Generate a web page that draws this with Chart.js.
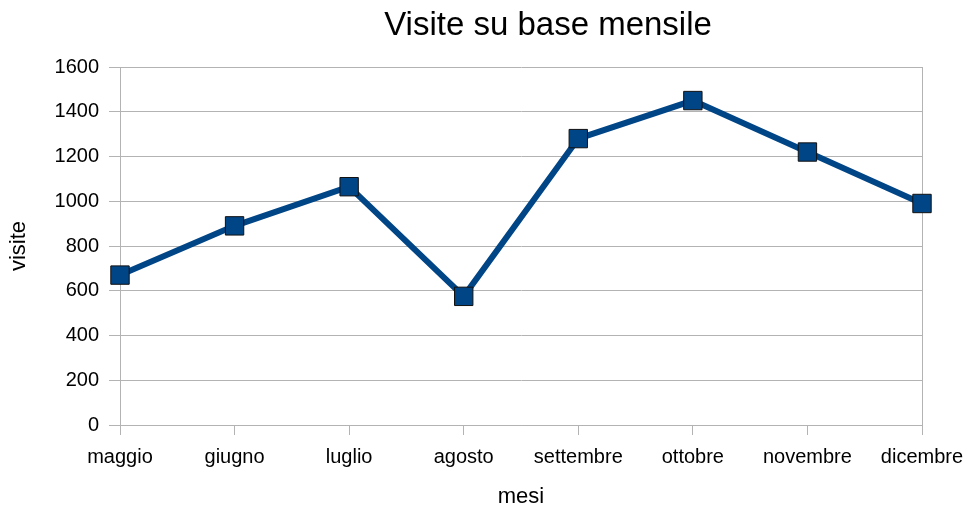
<!DOCTYPE html>
<html>
<head>
<meta charset="utf-8">
<script src="https://cdn.jsdelivr.net/npm/chart.js@4/dist/chart.umd.min.js"></script>
<style>
  html, body { margin: 0; padding: 0; background: #fff; }
  #wrap { width: 970px; height: 510px; }
</style>
</head>
<body>
<div id="wrap"><canvas id="myChart" width="970" height="510"></canvas></div>
<script>
const months = ["maggio", "giugno", "luglio", "agosto", "settembre", "ottobre", "novembre", "dicembre"];
const visits = [670, 890, 1065, 575, 1280, 1450, 1220, 990];
const chartTitle = "Visite su base mensile";
const xTitle = "mesi";
const yTitle = "visite";

const gridGray = '#b3b3b3';
const fontFamily = "'Liberation Sans', Arial, sans-serif";

// main title is off-centre in the original, so draw it ourselves
const titlePlugin = {
  id: 'offsetTitle',
  afterDraw(chart) {
    const c = chart.ctx;
    c.save();
    c.font = '33px ' + fontFamily;
    c.fillStyle = '#000';
    c.textAlign = 'center';
    c.textBaseline = 'alphabetic';
    c.fillText(chartTitle, 548, 35);
    c.restore();
  }
};

const ctx = document.getElementById('myChart');
new Chart(ctx, {
  type: 'line',
  data: {
    labels: months,
    datasets: [{
      label: yTitle,
      data: visits,
      borderColor: '#004586',
      backgroundColor: '#004586',
      borderWidth: 6,
      tension: 0,
      pointStyle: 'rect',
      pointRadius: 13,
      pointHoverRadius: 13,
      pointBackgroundColor: '#004586',
      pointBorderColor: '#111',
      pointBorderWidth: 1
    }]
  },
  options: {
    responsive: false,
    animation: false,
    devicePixelRatio: 1,
    layout: { padding: { top: 67, right: 48, left: 0, bottom: 0 } },
    plugins: {
      legend: { display: false },
      title: { display: false },
      tooltip: { enabled: false }
    },
    scales: {
      x: {
        offset: false,
        grid: {
          color: (c) => (c.index === 0 || c.index === months.length - 1) ? gridGray : 'rgba(0,0,0,0)',
          tickColor: gridGray,
          tickLength: 10,
          lineWidth: 1
        },
        border: { color: gridGray },
        ticks: {
          color: '#000',
          font: { family: fontFamily, size: 20 },
          padding: 10,
          maxRotation: 0,
          autoSkip: false
        },
        title: {
          display: true,
          text: xTitle,
          color: '#000',
          font: { family: fontFamily, size: 22 },
          padding: { top: 0, bottom: 0 }
        },
        afterFit(scale) {
          scale.height = 85;
          scale.paddingRight = 0;
        }
      },
      y: {
        min: 0,
        max: 1600,
        grid: {
          color: gridGray,
          tickColor: gridGray,
          tickLength: 11,
          lineWidth: 1
        },
        border: { color: gridGray },
        ticks: {
          stepSize: 200,
          color: '#000',
          font: { family: fontFamily, size: 20 },
          padding: 10,
          callback: (v) => String(v)
        },
        title: {
          display: true,
          text: yTitle,
          color: '#000',
          font: { family: fontFamily, size: 22 },
          padding: { top: 6, bottom: 0 }
        },
        afterFit(scale) { scale.width = 120; }
      }
    }
  },
  plugins: [titlePlugin]
});
</script>
</body>
</html>
